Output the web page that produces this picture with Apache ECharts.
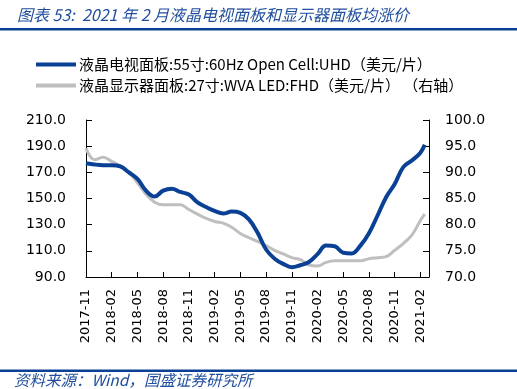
<!DOCTYPE html>
<html>
<head>
<meta charset="utf-8">
<script src="https://cdn.jsdelivr.net/npm/echarts@6/dist/echarts.min.js"></script>
<style>
html,body{margin:0;padding:0;background:#fff;}
#chart{width:517px;height:389px;}
</style>
</head>
<body>
<div id="chart"></div>
<script>
// Month labels (index 0 = 2017-11)
const months = ['2017-11','2017-12','2018-01','2018-02','2018-03','2018-04','2018-05','2018-06','2018-07','2018-08',
  '2018-09','2018-10','2018-11','2018-12','2019-01','2019-02','2019-03','2019-04','2019-05','2019-06',
  '2019-07','2019-08','2019-09','2019-10','2019-11','2019-12','2020-01','2020-02','2020-03','2020-04',
  '2020-05','2020-06','2020-07','2020-08','2020-09','2020-10','2020-11','2020-12','2021-01','2021-02'];
// Position of each observation in months since 2017-11
const obsPos = [0,1,2,3,4,5,6,7,8,9,10,11,12,13,14,15,16,17,18,19,20,21,22,23,24,25,26,27,28,29,30,31,32,33,34,35,36,37,38,39,39.5];
// 液晶电视面板 55寸 (left axis)
const tvPanel = [177,176,175.5,175.5,174.5,170,165,156,151.5,156,157.5,155,153,147,143.5,140.5,138.5,140,139,134,
  124,111,104,100,97.5,99,101.5,107.5,114,113.5,108.5,108,114,123.5,137,151,161,174,179,185,191];
// 液晶显示器面板 27寸 (right axis)
const monitorPanel = [94.6,92.4,92.9,92.1,91.2,90,88,85.8,84.3,83.8,83.8,83.8,82.9,82,81.2,80.6,80.3,79.5,78.3,77.5,
  76.8,76,75.1,74.4,73.7,73.3,72.3,72.1,72.8,73.1,73.1,73.1,73.1,73.5,73.7,73.9,75.1,76.4,78,80.8,82];
const leftTicks = [90,210,20];
const rightTicks = [70,100,5];

const FONT = '"DejaVu Sans","Noto Sans CJK SC",sans-serif';
const CJK = '"Noto Sans CJK SC","DejaVu Sans",sans-serif';
const BLUE = '#0b4195';
const GRAY = '#bfbfbf';

const chart = echarts.init(document.getElementById('chart'), null, {renderer:'canvas'});
chart.setOption({
  animation:false,
  backgroundColor:'#fff',
  title:{
    text:'图表 53:  2021 年 2 月液晶电视面板和显示器面板均涨价',
    left:12, top:2,
    textStyle:{fontSize:16, fontStyle:'italic', fontWeight:'normal', color:'#1f4e9c', fontFamily:CJK}
  },
  graphic:[
    {type:'rect', shape:{x:0,y:28,width:517,height:2.5}, style:{fill:BLUE}, silent:true},
    {type:'rect', shape:{x:0,y:369.5,width:517,height:2.5}, style:{fill:BLUE}, silent:true},
    {type:'text', left:14, top:372, style:{text:'资料来源：Wind，国盛证券研究所', fill:'#1f4e9c', font:'italic 15.5px '+CJK}}
  ],
  legend:{
    orient:'vertical', left:31, top:52,
    itemWidth:40, itemHeight:4, itemGap:6, icon:'rect',
    textStyle:{fontSize:15, color:'#000', fontFamily:CJK, padding:[0,0,0,-2]},
    data:['液晶电视面板:55寸:60Hz Open Cell:UHD（美元/片）','液晶显示器面板:27寸:WVA LED:FHD（美元/片） （右轴）']
  },
  grid:{left:86, right:88, top:120, bottom:112},
  xAxis:{
    type:'value', min:0, max:40, interval:3,
    axisLine:{lineStyle:{color:'#000',width:1}},
    axisTick:{inside:true, length:5, lineStyle:{color:'#000'}},
    splitLine:{show:false},
    axisLabel:{rotate:90, margin:12, fontSize:13, color:'#000', fontFamily:FONT,
      formatter:v => (v % 3 === 0 && v < months.length) ? months[v] : ''}
  },
  yAxis:[
    {type:'value', min:leftTicks[0], max:leftTicks[1], interval:leftTicks[2], position:'left',
     axisLine:{show:true, lineStyle:{color:'#000'}},
     axisTick:{show:true, inside:true, length:6, lineStyle:{color:'#000'}},
     splitLine:{show:false},
     axisLabel:{margin:20, fontSize:14, color:'#000', fontFamily:FONT, formatter:v=>v.toFixed(1)}},
    {type:'value', min:rightTicks[0], max:rightTicks[1], interval:rightTicks[2], position:'right',
     axisLine:{show:true, lineStyle:{color:'#000'}},
     axisTick:{show:true, inside:true, length:6, lineStyle:{color:'#000'}},
     splitLine:{show:false},
     axisLabel:{margin:16, fontSize:14, color:'#000', fontFamily:FONT, formatter:v=>v.toFixed(1)}}
  ],
  series:[
    {name:'液晶电视面板:55寸:60Hz Open Cell:UHD（美元/片）', type:'line', yAxisIndex:0, smooth:0.4, showSymbol:false,
     data:obsPos.map((x,i)=>[x,tvPanel[i]]), lineStyle:{color:BLUE,width:4}, itemStyle:{color:BLUE}, z:3},
    {name:'液晶显示器面板:27寸:WVA LED:FHD（美元/片） （右轴）', type:'line', yAxisIndex:1, smooth:0.4, showSymbol:false,
     data:obsPos.map((x,i)=>[x,monitorPanel[i]]), lineStyle:{color:GRAY,width:3}, itemStyle:{color:GRAY}, z:2}
  ]
});
</script>
</body>
</html>
